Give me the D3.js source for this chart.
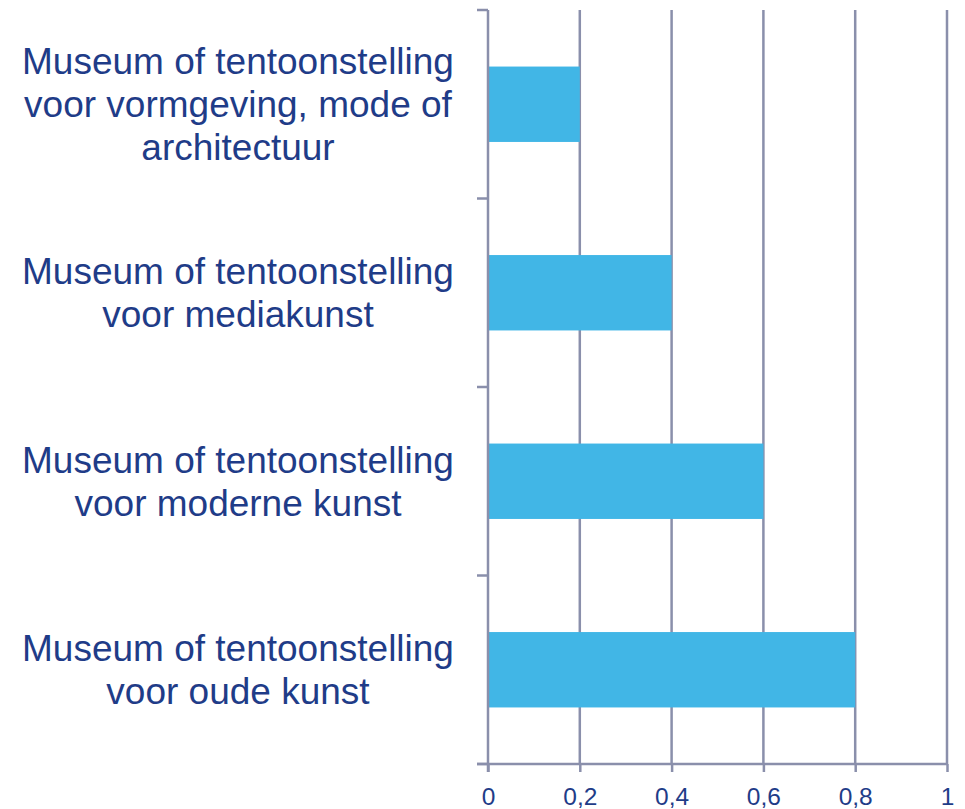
<!DOCTYPE html>
<html>
<head>
<meta charset="utf-8">
<script src="https://cdn.jsdelivr.net/npm/d3@7"></script>
<style>
  body { margin: 0; background: #fff; }
  text { font-family: "Liberation Sans", Arial, sans-serif; fill: #1f3c88; }
</style>
</head>
<body>
<svg id="chart" width="965" height="809"></svg>
<script>
// data
const categories = [
  ["Museum of tentoonstelling", "voor vormgeving, mode of", "architectuur"],
  ["Museum of tentoonstelling", "voor mediakunst"],
  ["Museum of tentoonstelling", "voor moderne kunst"],
  ["Museum of tentoonstelling", "voor oude kunst"]
];
const values = [0.2, 0.4, 0.6, 0.8];
const xTicks = [0, 0.2, 0.4, 0.6, 0.8, 1];

const svg = d3.select("#chart");
const plotLeft = 488, plotRight = 947, plotTop = 10, plotBottom = 764;
const lineColor = "#8a8fab";

const x = d3.scaleLinear().domain([0, 1]).range([plotLeft, plotRight]);
const y = d3.scaleBand()
  .domain(d3.range(categories.length))
  .range([plotTop, plotBottom])
  .paddingInner(0.6)
  .paddingOuter(0.3);

// gridlines
svg.append("g")
  .selectAll("line")
  .data(xTicks.slice(1))
  .enter()
  .append("line")
  .attr("x1", d => x(d)).attr("x2", d => x(d))
  .attr("y1", plotTop).attr("y2", plotBottom)
  .attr("stroke", lineColor)
  .attr("stroke-width", 2.5);

// bars
svg.append("g")
  .selectAll("rect")
  .data(values)
  .enter()
  .append("rect")
  .attr("x", x(0))
  .attr("y", (d, i) => y(i))
  .attr("width", d => x(d) - x(0))
  .attr("height", y.bandwidth())
  .attr("fill", "#41b6e6");

// x axis
const xAxis = d3.axisBottom(x)
  .tickValues(xTicks)
  .tickSize(8)
  .tickSizeOuter(0)
  .tickPadding(16)
  .tickFormat(d => String(d).replace(".", ","));

const gx = svg.append("g")
  .attr("transform", `translate(0,${plotBottom})`)
  .call(xAxis);
gx.select(".domain").remove();
gx.selectAll("line").attr("stroke", lineColor).attr("stroke-width", 2.5);
gx.selectAll("text")
  .style("font-size", "24.5px")
  .style("font-family", "'Liberation Sans', Arial, sans-serif")
  .attr("fill", "#1f3c88");
gx.append("line")
  .attr("x1", plotLeft - 11).attr("x2", plotRight)
  .attr("stroke", lineColor).attr("stroke-width", 2.5);

// y axis with category boundary ticks
const step = y.step();
const bounds = d3.range(categories.length + 1).map(i => plotTop + i * step);
svg.append("line")
  .attr("x1", plotLeft).attr("x2", plotLeft)
  .attr("y1", plotTop).attr("y2", plotBottom + 8)
  .attr("stroke", lineColor).attr("stroke-width", 2.5);
svg.append("g")
  .selectAll("line")
  .data(bounds)
  .enter()
  .append("line")
  .attr("x1", plotLeft - 11).attr("x2", plotLeft)
  .attr("y1", d => d).attr("y2", d => d)
  .attr("stroke", lineColor).attr("stroke-width", 2.5);

// category labels
const lineH = 43;
const labels = svg.append("g")
  .selectAll("text")
  .data(categories)
  .enter()
  .append("text")
  .attr("text-anchor", "middle")
  .style("font-size", "37px");
labels.each(function (lines, i) {
  const cy = y(i) + y.bandwidth() / 2;
  const y0 = cy - (lines.length - 1) * lineH / 2;
  d3.select(this).selectAll("tspan")
    .data(lines)
    .enter()
    .append("tspan")
    .attr("x", 238)
    .attr("y", (d, j) => y0 + j * lineH)
    .attr("dy", "0.35em")
    .text(d => d);
});
</script>
</body>
</html>
